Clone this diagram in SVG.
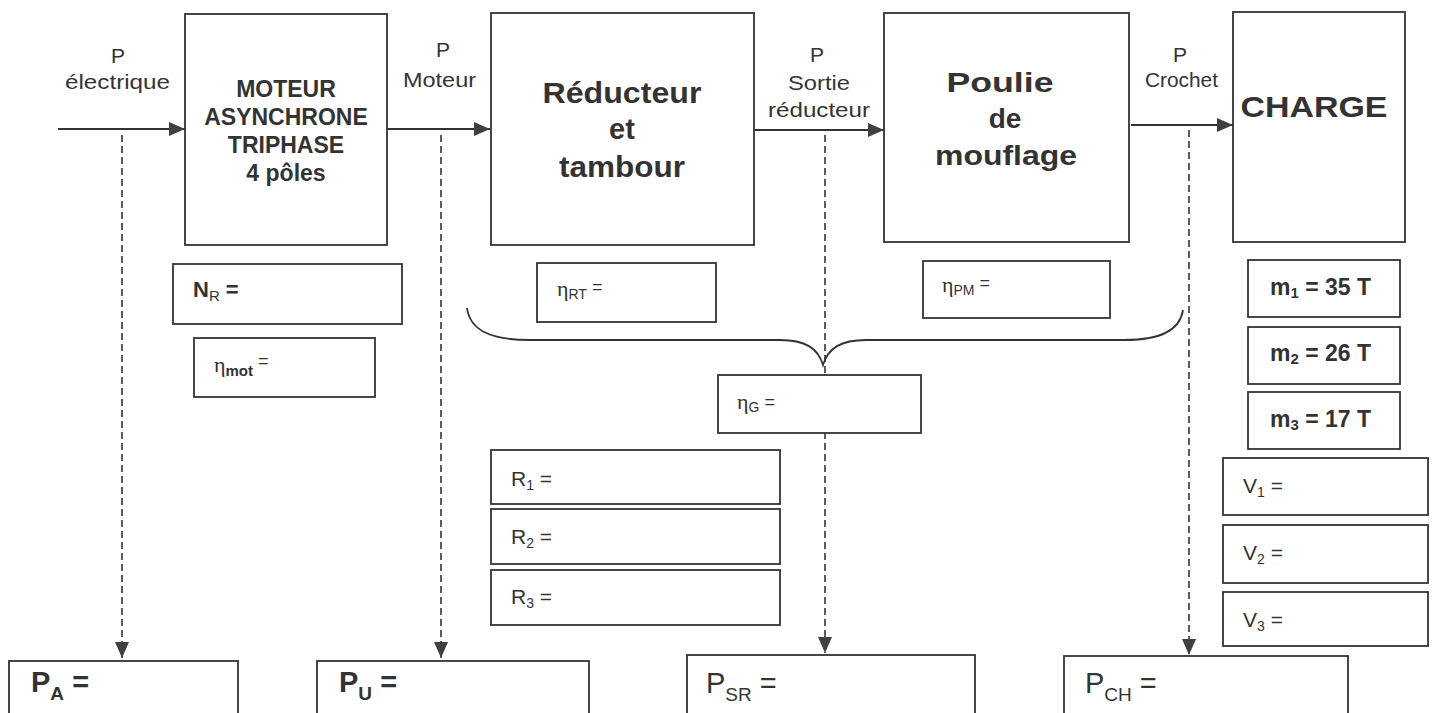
<svg xmlns="http://www.w3.org/2000/svg" width="1439" height="713" viewBox="0 0 1439 713">
<style>
  .box { fill: #ffffff; stroke: #333333; stroke-width: 1.8; }
  .conn { fill: none; stroke: #333333; stroke-width: 1.8; }
  .dash { fill: none; stroke: #333333; stroke-width: 1.6; stroke-dasharray: 7 4; }
  .brace { fill: none; stroke: #333333; stroke-width: 1.8; }
  .lbl { font-family: "Liberation Sans", Arial, sans-serif; fill: #333333; font-size: 21px; }
  .title { font-family: "Liberation Sans", Arial, sans-serif; fill: #333333; font-weight: bold; text-anchor: middle; }
  .val { font-family: "Liberation Sans", Arial, sans-serif; fill: #333333; }
  .eta { font-family: "Liberation Serif", "DejaVu Serif", serif; }
</style>
<defs>
  <marker id="ah" markerUnits="userSpaceOnUse" markerWidth="18" markerHeight="16" refX="16" refY="7" orient="auto">
    <path d="M0,0 L16,7 L0,14 Z" fill="#404040"/>
  </marker>
</defs>

<g id="connectors">
  <line class="conn" x1="58" y1="129" x2="185" y2="129" marker-end="url(#ah)"/>
  <line class="conn" x1="387" y1="129" x2="490" y2="129" marker-end="url(#ah)"/>
  <line class="conn" x1="754" y1="130" x2="884" y2="130" marker-end="url(#ah)"/>
  <line class="conn" x1="1131" y1="125" x2="1233" y2="125" marker-end="url(#ah)"/>
  <line class="dash" x1="122" y1="135" x2="122" y2="658" marker-end="url(#ah)"/>
  <line class="dash" x1="441" y1="135" x2="441" y2="658" marker-end="url(#ah)"/>
  <line class="dash" x1="825" y1="135" x2="825" y2="653" marker-end="url(#ah)"/>
  <line class="dash" x1="1189" y1="130" x2="1189" y2="655" marker-end="url(#ah)"/>
  <path class="brace" d="M467 308 C470 330 490 340 530 340 L780 340 C805 340 818 348 823 365 C828 348 841 340 866 340 L1125 340 C1160 340 1180 330 1183 310"/>
</g>

<g id="label-p-electrique">
  <text class="lbl" x="118" y="63" text-anchor="middle">P</text>
  <text class="lbl" x="65" y="89" textLength="105" lengthAdjust="spacingAndGlyphs">électrique</text>
</g>
<g id="label-p-moteur">
  <text class="lbl" x="443" y="57" text-anchor="middle">P</text>
  <text class="lbl" x="403" y="87" textLength="73" lengthAdjust="spacingAndGlyphs">Moteur</text>
</g>
<g id="label-p-sortie">
  <text class="lbl" x="817" y="62" text-anchor="middle">P</text>
  <text class="lbl" x="788" y="90" textLength="62" lengthAdjust="spacingAndGlyphs">Sortie</text>
  <text class="lbl" x="768" y="117" textLength="102" lengthAdjust="spacingAndGlyphs">réducteur</text>
</g>
<g id="label-p-crochet">
  <text class="lbl" x="1180" y="62" text-anchor="middle">P</text>
  <text class="lbl" x="1145" y="87" textLength="73" lengthAdjust="spacingAndGlyphs">Crochet</text>
</g>

<g id="node-moteur">
  <rect class="box" x="185" y="14" width="202" height="231"/>
  <text class="title" font-size="23" x="286" y="97">MOTEUR</text>
  <text class="title" font-size="23" x="286" y="125">ASYNCHRONE</text>
  <text class="title" font-size="23" x="286" y="153">TRIPHASE</text>
  <text class="title" font-size="23" x="286" y="181">4 pôles</text>
</g>
<g id="node-reducteur">
  <rect class="box" x="491" y="13" width="263" height="232"/>
  <text class="title" font-size="29" x="622" y="103" textLength="159" lengthAdjust="spacingAndGlyphs">Réducteur</text>
  <text class="title" font-size="29" x="622" y="139">et</text>
  <text class="title" font-size="29" x="622" y="177" textLength="126" lengthAdjust="spacingAndGlyphs">tambour</text>
</g>
<g id="node-poulie">
  <rect class="box" x="884" y="13" width="245" height="229"/>
  <text class="title" font-size="28" x="1000" y="92" textLength="107" lengthAdjust="spacingAndGlyphs">Poulie</text>
  <text class="title" font-size="28" x="1005" y="128">de</text>
  <text class="title" font-size="28" x="1006" y="165" textLength="142" lengthAdjust="spacingAndGlyphs">mouflage</text>
</g>
<g id="node-charge">
  <rect class="box" x="1233" y="12" width="172" height="230"/>
  <text class="title" font-size="30" x="1314" y="117" textLength="147" lengthAdjust="spacingAndGlyphs">CHARGE</text>
</g>

<g id="box-nr">
  <rect class="box" x="173" y="264" width="229" height="60"/>
  <text class="val" x="193" y="297" font-size="22" font-weight="bold">N<tspan font-size="15" font-weight="normal" dy="4">R</tspan><tspan dy="-4"> =</tspan></text>
</g>
<g id="box-eta-mot">
  <rect class="box" x="194" y="338" width="181" height="59"/>
  <text class="val" x="214" y="372" font-size="22"><tspan class="eta">η</tspan><tspan font-size="15" font-weight="bold" dy="4">mot</tspan><tspan font-size="18" dy="-9"> =</tspan></text>
</g>
<g id="box-eta-rt">
  <rect class="box" x="537" y="263" width="179" height="59"/>
  <text class="val" x="557" y="296" font-size="22"><tspan class="eta">η</tspan><tspan font-size="14" dy="3">RT</tspan><tspan font-size="18" dy="-6"> =</tspan></text>
</g>
<g id="box-eta-pm">
  <rect class="box" x="923" y="261" width="187" height="57"/>
  <text class="val" x="942" y="292" font-size="22"><tspan class="eta">η</tspan><tspan font-size="14" dy="3">PM</tspan><tspan font-size="18" dy="-6"> =</tspan></text>
</g>
<g id="box-eta-g">
  <rect class="box" x="718" y="375" width="203" height="58"/>
  <text class="val" x="737" y="409" font-size="22"><tspan class="eta">η</tspan><tspan font-size="14" dy="3">G</tspan><tspan font-size="18" dy="-4"> =</tspan></text>
</g>

<g id="box-m1">
  <rect class="box" x="1248" y="260" width="152" height="57"/>
  <text class="val" x="1270" y="295" font-size="23" font-weight="bold">m<tspan font-size="15" dy="3">1</tspan><tspan dy="-3"> = 35 T</tspan></text>
</g>
<g id="box-m2">
  <rect class="box" x="1248" y="327" width="152" height="57"/>
  <text class="val" x="1270" y="361" font-size="23" font-weight="bold">m<tspan font-size="15" dy="3">2</tspan><tspan dy="-3"> = 26 T</tspan></text>
</g>
<g id="box-m3">
  <rect class="box" x="1248" y="392" width="152" height="57"/>
  <text class="val" x="1270" y="427" font-size="23" font-weight="bold">m<tspan font-size="15" dy="3">3</tspan><tspan dy="-3"> = 17 T</tspan></text>
</g>

<g id="box-r1">
  <rect class="box" x="491" y="450" width="289" height="54"/>
  <text class="val" x="511" y="486" font-size="21">R<tspan font-size="14" dy="4">1</tspan><tspan dy="-4"> =</tspan></text>
</g>
<g id="box-r2">
  <rect class="box" x="491" y="509" width="289" height="55"/>
  <text class="val" x="511" y="544" font-size="21">R<tspan font-size="14" dy="4">2</tspan><tspan dy="-4"> =</tspan></text>
</g>
<g id="box-r3">
  <rect class="box" x="491" y="570" width="289" height="55"/>
  <text class="val" x="511" y="604" font-size="21">R<tspan font-size="14" dy="4">3</tspan><tspan dy="-4"> =</tspan></text>
</g>

<g id="box-v1">
  <rect class="box" x="1223" y="458" width="205" height="57"/>
  <text class="val" x="1243" y="493" font-size="21">V<tspan font-size="14" dy="4">1</tspan><tspan dy="-4"> =</tspan></text>
</g>
<g id="box-v2">
  <rect class="box" x="1223" y="525" width="205" height="58"/>
  <text class="val" x="1243" y="560" font-size="21">V<tspan font-size="14" dy="4">2</tspan><tspan dy="-4"> =</tspan></text>
</g>
<g id="box-v3">
  <rect class="box" x="1223" y="592" width="205" height="54"/>
  <text class="val" x="1243" y="627" font-size="21">V<tspan font-size="14" dy="4">3</tspan><tspan dy="-4"> =</tspan></text>
</g>

<g id="box-pa">
  <rect class="box" x="9" y="661" width="229" height="70"/>
  <text class="val" x="31" y="692" font-size="29" font-weight="bold">P<tspan font-size="19" dy="8">A</tspan><tspan dy="-8"> =</tspan></text>
</g>
<g id="box-pu">
  <rect class="box" x="317" y="661" width="272" height="70"/>
  <text class="val" x="339" y="692" font-size="29" font-weight="bold">P<tspan font-size="19" dy="8">U</tspan><tspan dy="-8"> =</tspan></text>
</g>
<g id="box-psr">
  <rect class="box" x="687" y="655" width="288" height="76"/>
  <text class="val" x="706" y="693" font-size="29">P<tspan font-size="19" dy="8">SR</tspan><tspan dy="-8"> =</tspan></text>
</g>
<g id="box-pch">
  <rect class="box" x="1064" y="656" width="284" height="76"/>
  <text class="val" x="1085" y="693" font-size="29">P<tspan font-size="19" dy="8">CH</tspan><tspan dy="-8"> =</tspan></text>
</g>
</svg>
